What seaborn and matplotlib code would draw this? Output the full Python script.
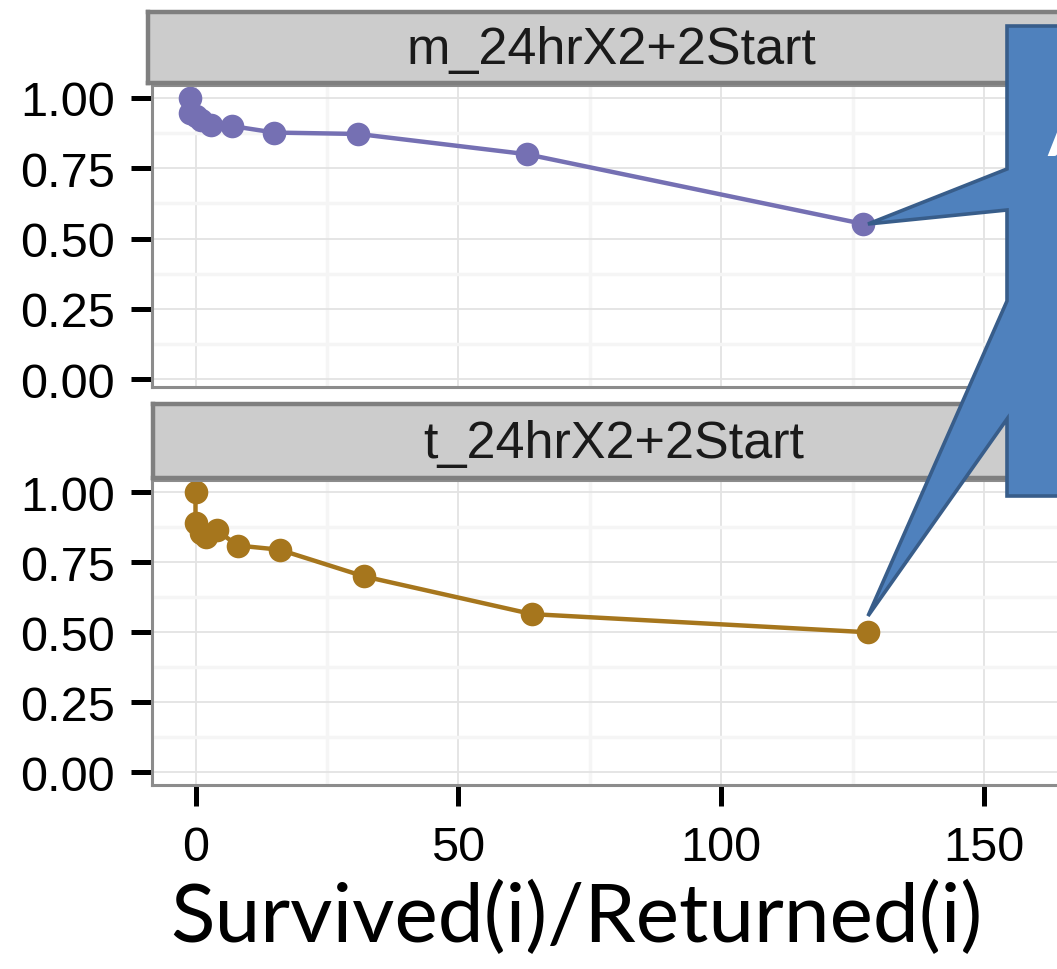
import matplotlib
matplotlib.use("Agg")
import matplotlib.pyplot as plt
import matplotlib.ticker as mticker
from matplotlib.patches import Polygon
import seaborn as sns

# values
top_label = "m_24hrX2+2Start"
top_x = [-1, -1, 0, 1, 3, 7, 15, 31, 63, 127]
top_y = [1.00, 0.945, 0.935, 0.92, 0.905, 0.90, 0.877, 0.872, 0.80, 0.552]

bottom_label = "t_24hrX2+2Start"
bottom_x = [0, 0, 1, 2, 4, 8, 16, 32, 64, 128]
bottom_y = [1.00, 0.89, 0.855, 0.84, 0.865, 0.81, 0.795, 0.70, 0.565, 0.50]

x_ticks = [0, 50, 100, 150]
y_ticks = [0.00, 0.25, 0.50, 0.75, 1.00]
y_ticklabels = ["0.00", "0.25", "0.50", "0.75", "1.00"]
x_title = "Survived(i)/Returned(i)"

PURPLE = "#7570B3"
BROWN = "#A6761D"

W, H = 1057, 970

sns.set_style("white")
plt.rcParams['font.family'] = ['Liberation Sans', 'DejaVu Sans']


def px_rect(left, top, right, bottom):
    """Convert a pixel box (y from the top) to figure coordinates."""
    return [left / W, 1 - bottom / H, (right - left) / W, (bottom - top) / H]


def style_panel(ax, ylim):
    ax.set_xlim(-(195.5 - 152) / 5.256, (1072 - 195.5) / 5.256)
    ax.set_ylim(*ylim)
    ax.set_xticks(x_ticks)
    ax.set_yticks(y_ticks)
    ax.set_yticklabels(y_ticklabels)
    ax.xaxis.set_minor_locator(mticker.MultipleLocator(25))
    ax.yaxis.set_minor_locator(mticker.MultipleLocator(0.125))
    ax.grid(which='minor', color='#F5F5F5', lw=2.5, zorder=0)
    ax.grid(which='major', color='#E3E3E3', lw=1.3, zorder=0)
    ax.set_axisbelow(True)
    for sp in ax.spines.values():
        sp.set_color('#8C8C8C')
        sp.set_linewidth(2.2)
    ax.tick_params(which='major', direction='out', length=15, width=3.6,
                   color='black', labelcolor='black', labelsize=35, pad=12,
                   left=True, bottom=True)
    ax.tick_params(which='minor', length=0)
    ax.set_xlabel("")
    ax.set_ylabel("")


def add_strip(rect, label):
    sax = fig.add_axes(px_rect(*rect))
    sax.set_facecolor('#CCCCCC')
    sax.set_xticks([])
    sax.set_yticks([])
    for sp in sax.spines.values():
        sp.set_color('#7F7F7F')
        sp.set_linewidth(3.2)
    sax.text(0.5, 0.47, label, transform=sax.transAxes, ha='center',
             va='center', fontsize=37.5, color='#1A1A1A')
    return sax


fig = plt.figure(figsize=(W / 100, H / 100), dpi=100, facecolor='white')

# top facet
ax1 = fig.add_axes(px_rect(152, 86, 1072, 388))
sns.lineplot(x=top_x, y=top_y, ax=ax1, color=PURPLE, linewidth=3.2,
             sort=False, estimator=None, marker='o', markersize=17,
             markeredgewidth=0)
style_panel(ax1, (-(388 - 380) / 281, 1 + (99 - 86) / 281))
ax1.tick_params(axis='x', bottom=False, labelbottom=False)
add_strip((148, 13, 1074, 84), top_label)

# bottom facet
ax2 = fig.add_axes(px_rect(152, 481, 1072, 786))
sns.lineplot(x=bottom_x, y=bottom_y, ax=ax2, color=BROWN, linewidth=3.2,
             sort=False, estimator=None, marker='o', markersize=17,
             markeredgewidth=0)
style_panel(ax2, (-(786 - 773.3) / 280, 1 + (493.3 - 481) / 280))
ax2.tick_params(axis='x', pad=14)
add_strip((153, 405, 1074, 479), bottom_label)

ax2.set_xlabel(x_title, fontsize=59, family=['Lato', 'DejaVu Sans'],
               color='black')
ax2.xaxis.set_label_coords((576 - 152) / (1072 - 152), -0.31)

# slide callout overlapping the chart
callout_px = [(1007, 27), (1007, 170), (868, 225), (1007, 211), (1007, 302),
              (868, 617), (1007, 420), (1007, 497), (1110, 497), (1110, 27)]
callout = Polygon([(x / W, 1 - y / H) for x, y in callout_px], closed=True,
                  transform=fig.transFigure, facecolor='#4F81BD',
                  edgecolor='#385D8A', lw=2.6, zorder=10, joinstyle='miter')
fig.patches.append(callout)
fig.text(1047 / W, 1 - 156 / H, "A", color='white', fontsize=46,
         fontweight='bold', family=['Lato', 'DejaVu Sans'],
         ha='left', va='baseline', zorder=11)

fig.savefig("out.png", dpi=100, facecolor='white')
